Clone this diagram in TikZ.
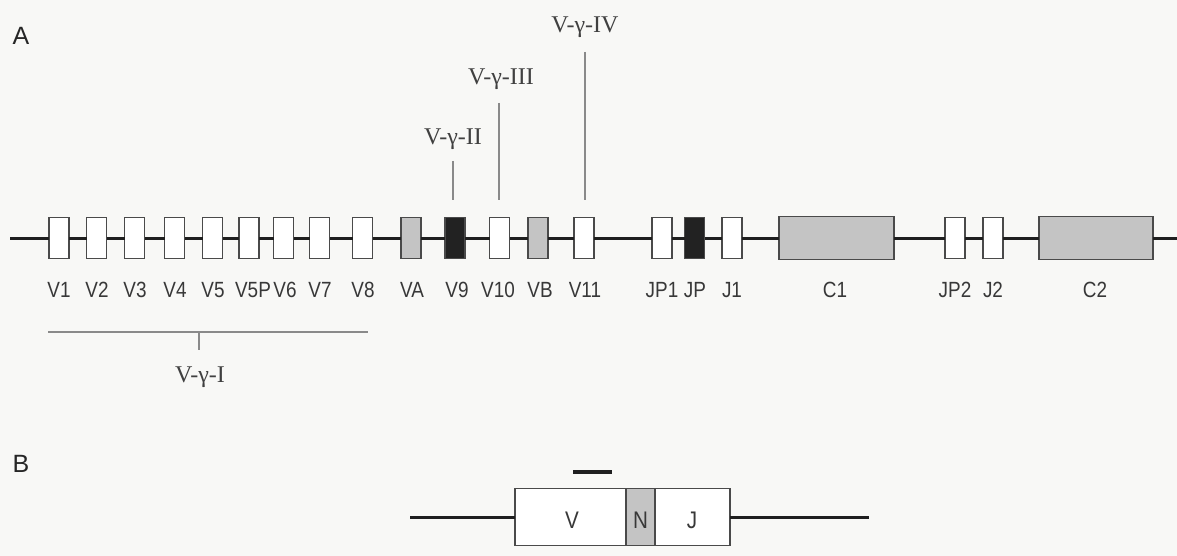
\documentclass[tikz,border=0pt]{standalone}
\usepackage{fontspec}
\setmainfont{Liberation Serif}
\newfontfamily\genefont[FakeStretch=0.86]{Liberation Sans}
\newfontfamily\panelfont{Liberation Sans}
\definecolor{boxline}{HTML}{4A4A4A}
\definecolor{gfill}{HTML}{C4C4C4}
\definecolor{kfill}{HTML}{222222}
\definecolor{bg}{HTML}{F8F8F6}
\definecolor{ann}{HTML}{8A8A8A}
\begin{document}
\begin{tikzpicture}[x=1pt,y=-1pt,
  gene/.style={draw=boxline,line width=1.4pt,fill=white,minimum width=20pt,minimum height=41pt,inner sep=0pt,outer sep=0pt},
  gray/.style={gene,fill=gfill},
  dark/.style={gene,fill=kfill},
  cbox/.style={gene,fill=gfill,minimum height=43pt},
  glabel/.style={font=\genefont\fontsize{22}{22}\selectfont,text=black!78,inner sep=0pt},
  glab/.style={font=\fontsize{24}{24}\selectfont,text=black!75,inner sep=0pt,anchor=base},
  panel/.style={font=\panelfont\fontsize{25}{25}\selectfont,text=black!85,inner sep=0pt},
  dna/.style={draw=black!88,line width=3pt},
  annl/.style={draw=ann,line width=1.2pt}]
\fill[bg] (0,0) rectangle (1177,556);
\useasboundingbox (0,0) rectangle (1177,556);
% panel labels
\node[panel] (pA) at (21,36) {A};
\node[panel] (pB) at (21,464) {B};
% genes
\foreach \n/\x/\s in {V1/59/gene,V2/96.5/gene,V3/134.5/gene,V4/174.5/gene,V5/212.5/gene,V5P/249/gene,V6/283.5/gene,V7/319.5/gene,V8/362.5/gene,VA/411/gray,V9/455/dark,V10/499.5/gene,VB/538/gray,V11/584/gene,JP1/662/gene,JP/694.5/dark,J1/732/gene,JP2/955/gene,J2/993/gene}
  {\node[\s] (\n) at (\x,238) {};}
\node[cbox,minimum width=115pt] (C1) at (836.5,238) {};
\node[cbox,minimum width=114pt] (C2) at (1096,238) {};
% labels
\foreach \n/\x in {V1/59,V2/97,V3/135,V4/175,V5/213,V5P/253,V6/285,V7/320,V8/363,VA/412,V9/457,V10/498,VB/540,V11/585,JP1/662,JP/695,J1/732,C1/835,JP2/955,J2/993,C2/1095}
  {\node[glabel] (l\n) at (\x,290) {\n};}
% DNA line
\coordinate (s) at (10,238);
\coordinate (e) at (1177,238);
\draw[dna] (s) -- (V1.west);
\foreach \a/\b in {V1/V2,V2/V3,V3/V4,V4/V5,V5/V5P,V5P/V6,V6/V7,V7/V8,V8/VA,VA/V9,V9/V10,V10/VB,VB/V11,V11/JP1,JP1/JP,JP/J1,J1/C1,C1/JP2,JP2/J2,J2/C2}
  {\draw[dna] (\a.east) -- (\b.west);}
\draw[dna] (C2.east) -- (e);
% subgroup annotations
\node[glab] (g2) at (453,145) {V-γ-II};
\node[glab] (g3) at (501,85) {V-γ-III};
\node[glab] (g4) at (585,33) {V-γ-IV};
\coordinate (g2t) at (453,161); \coordinate (g2b) at (453,200);
\coordinate (g3t) at (499,103); \coordinate (g3b) at (499,200);
\coordinate (g4t) at (585,52);  \coordinate (g4b) at (585,200);
\draw[annl] (g2t) -- (g2b);
\draw[annl] (g3t) -- (g3b);
\draw[annl] (g4t) -- (g4b);
\coordinate (g1l) at (48,332); \coordinate (g1r) at (368,332);
\coordinate (g1m) at (199,332); \coordinate (g1d) at (199,350);
\draw[annl] (g1l) -- (g1r);
\draw[annl] (g1m) -- (g1d);
\node[glab] (g1) at (200,382) {V-γ-I};
% panel B
\node[gene,minimum width=111pt,minimum height=57pt] (bV) at (570.5,517) {};
\node[gene,fill=gfill,minimum width=29pt,minimum height=57pt] (bN) at (640.5,517) {};
\node[gene,minimum width=75pt,minimum height=57pt] (bJ) at (692.5,517) {};
\node[glabel,font=\genefont\fontsize{24}{24}\selectfont] (tV) at (572,520) {V};
\node[glabel,font=\genefont\fontsize{24}{24}\selectfont] (tN) at (640.5,520) {N};
\node[glabel,font=\genefont\fontsize{24}{24}\selectfont] (tJ) at (692,520) {J};
\coordinate (bl) at (410,517); \coordinate (br) at (869,517);
\draw[dna] (bl) -- (bV.west);
\draw[dna] (bJ.east) -- (br);
\coordinate (pl) at (573,472); \coordinate (pr) at (612,472);
\draw[draw=black!88,line width=3.5pt] (pl) -- (pr);
\end{tikzpicture}
\end{document}
